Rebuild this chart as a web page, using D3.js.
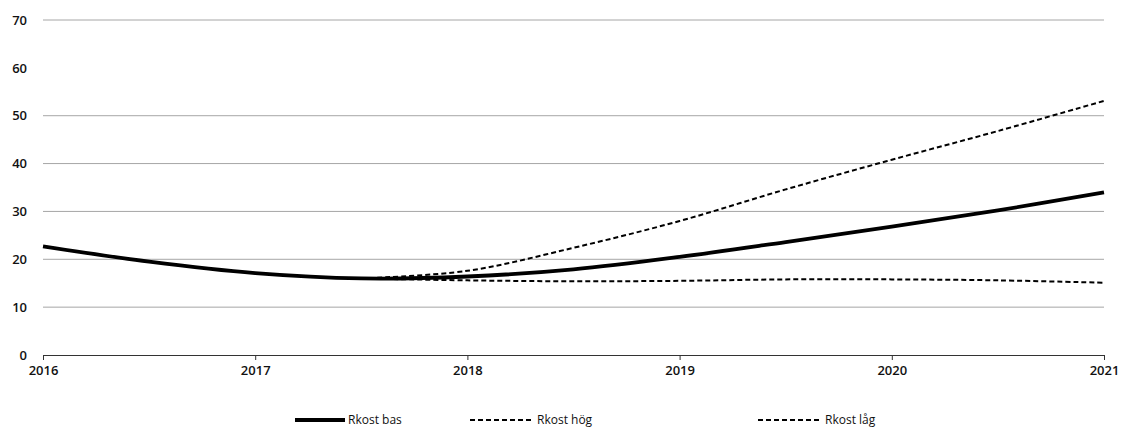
<!DOCTYPE html>
<html>
<head>
<meta charset="utf-8">
<script src="https://cdn.jsdelivr.net/npm/d3@7"></script>
<style>
    body { margin: 0; background: #fff; }
    svg { display: block; font-family: "Open Sans", "Noto Sans", sans-serif; }
    .tick text { font-family: "Open Sans", "Noto Sans", sans-serif; font-size: 13px; font-weight: 600; fill: #111; }
</style>
</head>
<body>
<div id="chart"></div>
<script>
// Chart data (half-year readings)
const years = [2016, 2016.5, 2017, 2017.5, 2018, 2018.5, 2019, 2019.5, 2020, 2020.5, 2021];
const rkostBas = [22.7, 19.5, 17.1, 16.0, 16.4, 17.9, 20.5, 23.6, 26.8, 30.2, 34.0];
const scenYears = [2017.5, 2018, 2018.5, 2019, 2019.5, 2020, 2020.5, 2021];
const rkostHog = [16.0, 17.6, 22.4, 28.0, 34.6, 40.8, 46.8, 53.1];
const rkostLag = [16.0, 15.6, 15.4, 15.5, 15.8, 15.8, 15.6, 15.1];
const xTicks = [2016, 2017, 2018, 2019, 2020, 2021];
const yTicks = [0, 10, 20, 30, 40, 50, 60, 70];

const width = 1125, height = 432;
const margin = { top: 20, right: 21, bottom: 77, left: 43 };

const svg = d3.select("#chart").append("svg")
    .attr("width", width)
    .attr("height", height);

const x = d3.scaleLinear()
    .domain([2016, 2021])
    .range([margin.left, width - margin.right]);

const y = d3.scaleLinear()
    .domain([0, 70])
    .range([height - margin.bottom, margin.top]);

// Gridlines (no line at 60 in the original)
svg.append("g")
    .selectAll("line")
    .data(yTicks.filter(d => d > 0 && d !== 60))
    .join("line")
    .attr("x1", x(2016))
    .attr("x2", x(2021))
    .attr("y1", d => y(d))
    .attr("y2", d => y(d))
    .attr("stroke", "#a6a6a6")
    .attr("stroke-width", 1);

// Y axis labels
const yAxis = svg.append("g")
    .attr("transform", `translate(${margin.left},0)`)
    .call(d3.axisLeft(y).tickValues(yTicks).tickSize(0).tickPadding(16));
yAxis.select(".domain").remove();

// X axis
const xAxis = svg.append("g")
    .attr("transform", `translate(0,${y(0)})`)
    .call(d3.axisBottom(x).tickValues(xTicks).tickFormat(d3.format("d")).tickSize(5).tickPadding(6).tickSizeOuter(0));
xAxis.select(".domain").attr("stroke", "#333").attr("stroke-width", 1.2);
xAxis.selectAll(".tick line").attr("stroke", "#333");

const line = d3.line()
    .x(d => x(d[0]))
    .y(d => y(d[1]))
    .curve(d3.curveCatmullRom.alpha(0.5));

const series = [
    { name: "Rkost bas", xs: years, vals: rkostBas, width: 3.8, dash: null },
    { name: "Rkost hög", xs: scenYears, vals: rkostHog, width: 2, dash: "5,3" },
    { name: "Rkost låg", xs: scenYears, vals: rkostLag, width: 2, dash: "5,3" }
];

svg.append("g")
    .selectAll("path")
    .data(series)
    .join("path")
    .attr("fill", "none")
    .attr("stroke", "#000")
    .attr("stroke-width", d => d.width)
    .attr("stroke-dasharray", d => d.dash)
    .attr("d", d => line(d.xs.map((v, i) => [v, d.vals[i]])));

// Legend
const legendX = [295, 470, 758];
const legend = svg.append("g")
    .selectAll("g")
    .data(series)
    .join("g")
    .attr("transform", (d, i) => `translate(${legendX[i]},420)`);

legend.append("line")
    .attr("x1", 0)
    .attr("x2", (d, i) => i === 0 ? 50 : 63)
    .attr("stroke", "#000")
    .attr("stroke-width", d => d.width)
    .attr("stroke-dasharray", d => d.dash);

legend.append("text")
    .attr("x", (d, i) => i === 0 ? 53 : 67)
    .attr("dy", "0.35em")
    .attr("font-size", 12)
    .attr("fill", "#111")
    .text(d => d.name);
</script>
</body>
</html>
